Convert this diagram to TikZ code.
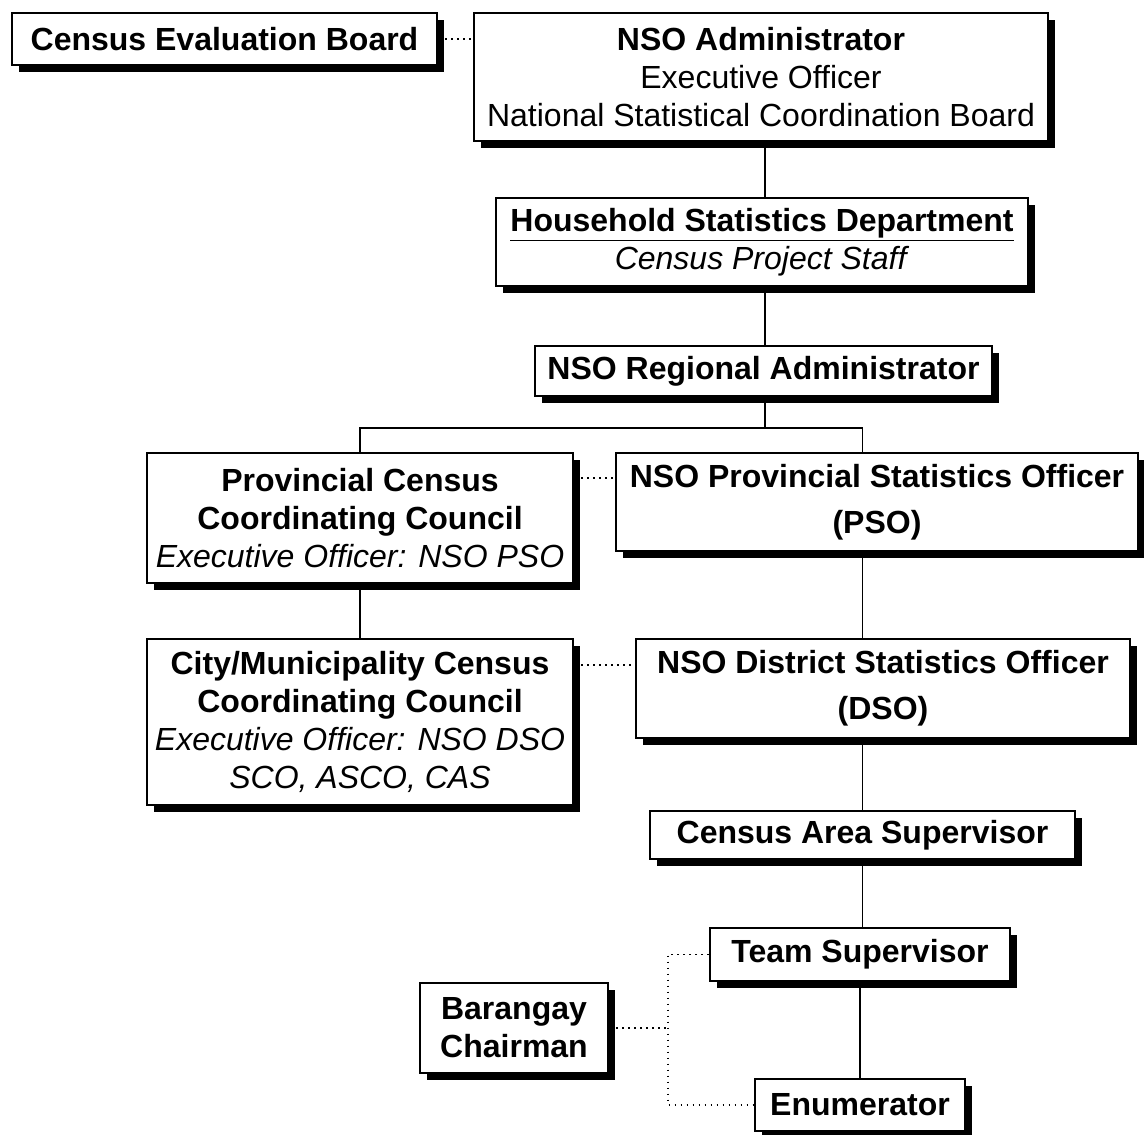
\documentclass[tikz,border=0pt]{standalone}
\usepackage{fontspec}
\setmainfont{Liberation Sans}
\usepackage{tikz}
\usetikzlibrary{shadows, calc}

\tikzset{
  box/.style={draw=black, line width=1pt, fill=white, inner sep=0pt, align=center,
    font=\fontsize{16}{19}\selectfont,
    drop shadow={shadow xshift=3.5pt, shadow yshift=-3.5pt, fill=black, opacity=1}},
  tie/.style={line width=0.8pt},
  dotline/.style={line width=0.7pt, dash pattern=on 0.8pt off 2.2pt}
}

\begin{document}
\begin{tikzpicture}[x=0.5pt, y=-0.5pt]
\useasboundingbox[fill=white] (0,0) rectangle (1144,1134);

\node (ceb) at (224.5,39) [box, minimum width=212.5pt, minimum height=26pt] {\textbf{Census Evaluation Board}};
\node (admin) at (761,77) [box, minimum width=287pt, minimum height=64pt]
  {\textbf{NSO Administrator}\\ Executive Officer\\ National Statistical Coordination Board};
\node (hsd) at (762,242) [box, minimum width=266pt, minimum height=44pt]
  {\textbf{\underline{Household Statistics Department}}\\ \textit{Census Project Staff}};
\node (region) at (763.5,371) [box, minimum width=228.5pt, minimum height=25pt] {\textbf{NSO Regional Administrator}};

\node (pccc) at (360,518) [box, minimum width=213pt, minimum height=65pt]
  {\textbf{Provincial Census}\\ \textbf{Coordinating Council}\\ \textit{Executive Officer: NSO PSO}};
\node (pso) at (877,502) [box, minimum width=261pt, minimum height=49pt]
  {\textbf{NSO Provincial Statistics Officer}\\[4pt] \textbf{(PSO)}};
\node (cmccc) at (360,722) [box, minimum width=213pt, minimum height=83pt]
  {\textbf{City/Municipality Census}\\ \textbf{Coordinating Council}\\ \textit{Executive Officer: NSO DSO}\\ \textit{SCO, ASCO, CAS}};
\node (dso) at (883,688.5) [box, minimum width=247pt, minimum height=49.5pt]
  {\textbf{NSO District Statistics Officer}\\[4pt] \textbf{(DSO)}};

\node (cas) at (862.5,835) [box, minimum width=212.5pt, minimum height=24pt] {\textbf{Census Area Supervisor}};
\node (team) at (860,954.5) [box, minimum width=150pt, minimum height=26.5pt] {\textbf{Team Supervisor}};
\node (enum) at (860,1105) [box, minimum width=105pt, minimum height=26pt] {\textbf{Enumerator}};
\node (brgy) at (514,1028) [box, minimum width=94pt, minimum height=45pt] {\textbf{Barangay}\\ \textbf{Chairman}};

\coordinate (fork) at (765,428);
\coordinate (bend) at (668,1028);

\draw [tie] (admin.south -| fork) -- (hsd.north -| fork);
\draw [tie] (hsd.south -| fork) -- (region.north -| fork);
\draw [tie] (region.south -| fork) -- (fork);
\draw [tie] (pccc.north) -- (pccc.north |- fork) -- (fork -| cas.north) -- (pso.north -| cas.north);
\draw [tie] (pccc.south) -- (cmccc.north);
\draw [tie] (pso.south -| cas.north) -- (dso.north -| cas.north);
\draw [tie] (dso.south -| cas.north) -- (cas.north);
\draw [tie] (cas.south) -- (cas.south |- team.north);
\draw [tie] (team.south) -- (enum.north);

\draw [dotline] ([xshift=3.5pt]ceb.east) -- (ceb.east -| admin.west);
\draw [dotline] ([xshift=3.5pt, yshift=-13pt]pccc.north east) -- ([yshift=-13pt]pccc.north east -| pso.west);
\draw [dotline] ([xshift=3.5pt, yshift=-13.5pt]cmccc.north east) -- ([yshift=-13.5pt]cmccc.north east -| dso.west);
\draw [dotline] ([xshift=3.5pt]brgy.east) -- (bend);
\draw [dotline] (team.west) -| (bend) |- (enum.west);
\end{tikzpicture}
\end{document}
